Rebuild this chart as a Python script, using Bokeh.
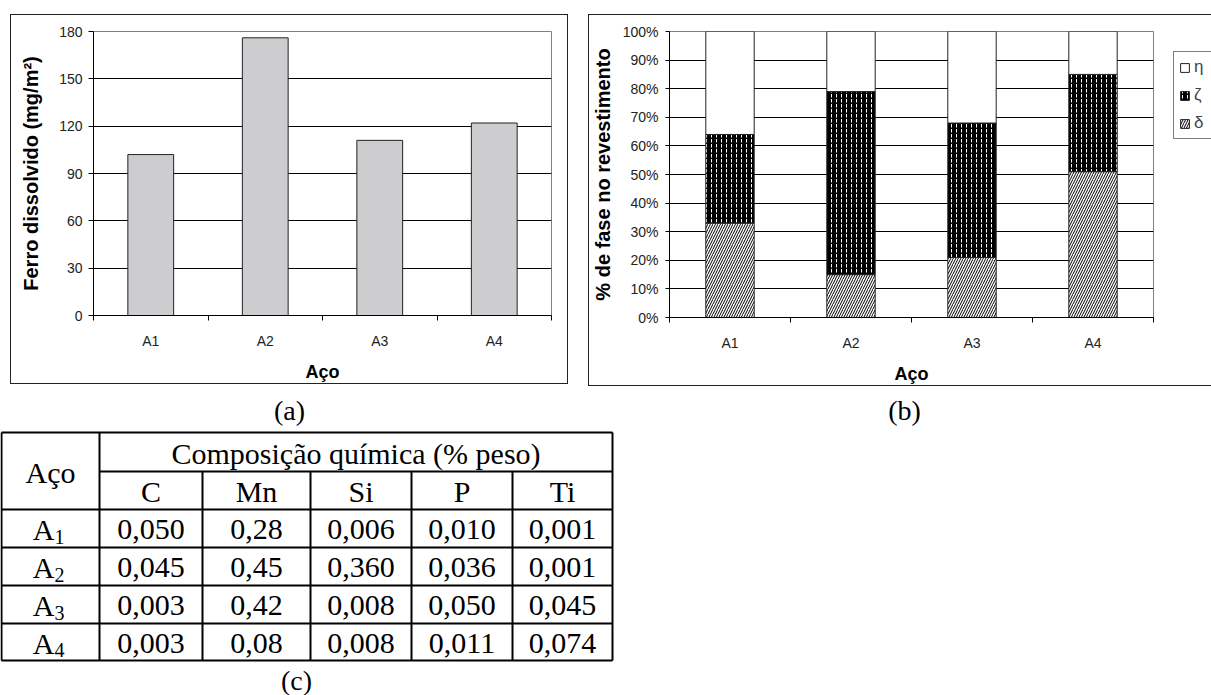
from bokeh.plotting import figure
from bokeh.models import (Range1d, FixedTicker, ColumnDataSource, Legend, LegendItem,
                          Spacer, PrintfTickFormatter)
from bokeh.layouts import row, column
from bokeh.embed import file_html
from bokeh.resources import INLINE
from bokeh.core.properties import value

# ---------------- data ----------------
steels = ["A1", "A2", "A3", "A4"]
ferro = [102, 176, 111, 122]                 # Ferro dissolvido (mg/m2)
ferro_ticks = [0, 30, 60, 90, 120, 150, 180]

phase_delta = [33, 15, 21, 51]               # % delta
phase_zeta = [31, 64, 47, 34]                # % zeta
phase_eta = [36, 21, 32, 15]                 # % eta
pct_ticks = [0, 10, 20, 30, 40, 50, 60, 70, 80, 90, 100]
phase_names = ["δ", "ζ", "η"]

table_steel = ["A", "A", "A", "A"]
table_sub = ["1", "2", "3", "4"]
elements = ["C", "Mn", "Si", "P", "Ti"]
comp_C = ["0,050", "0,045", "0,003", "0,003"]
comp_Mn = ["0,28", "0,45", "0,42", "0,08"]
comp_Si = ["0,006", "0,360", "0,008", "0,008"]
comp_P = ["0,010", "0,036", "0,050", "0,011"]
comp_Ti = ["0,001", "0,001", "0,045", "0,074"]
table_header = "Composição química (% peso)"
table_corner = "Aço"
captions = ["(a)", "(b)", "(c)"]

# ---------------- style ----------------
SANS = "Liberation Sans"
SERIF = "Liberation Serif"
n = len(steels)
xs = [i + 0.5 for i in range(n)]
STACK_STYLE = dict(fill_color=["white", "black", "white"],
                   line_color=["#222222", "#222222", "#222222"],
                   hatch_pattern=["right_diagonal_line", "vertical_dash", " "],
                   hatch_color=["black", "white", "black"],
                   hatch_scale=[5, 5, 4], hatch_weight=[1, 1, 1])


def style_chart(p, yticks, ylabel, ylabel_standoff):
    p.xgrid.visible = False
    p.ygrid.ticker = FixedTicker(ticks=yticks)
    p.ygrid.grid_line_color = "black"
    p.ygrid.grid_line_width = 1
    p.outline_line_color = "#808080"
    p.yaxis.ticker = FixedTicker(ticks=yticks)
    p.xaxis.ticker = FixedTicker(ticks=xs, minor_ticks=list(range(n + 1)))
    p.xaxis.major_label_overrides = {x: s for x, s in zip(xs, steels)}
    for ax in (p.xaxis[0], p.yaxis[0]):
        ax.axis_line_color = "black"
        ax.major_tick_line_color = "black"
        ax.minor_tick_line_color = "black"
        ax.major_label_text_font = SANS
        ax.major_label_text_font_size = "14px"
        ax.major_label_text_color = "#222222"
        ax.axis_label_text_font = SANS
        ax.axis_label_text_font_style = "bold"
        ax.axis_label_text_color = "black"
    p.xaxis.axis_label_text_font_size = "18px"
    p.yaxis.axis_label_text_font_size = "20px"
    p.xaxis.major_tick_out = 0
    p.xaxis.major_tick_in = 0
    p.xaxis.minor_tick_out = 5
    p.xaxis.minor_tick_in = 0
    p.xaxis.major_label_standoff = 12
    p.xaxis.axis_label = "Aço"
    p.xaxis.axis_label_standoff = 10
    p.yaxis.major_tick_out = 5
    p.yaxis.major_tick_in = 0
    p.yaxis.minor_tick_out = 0
    p.yaxis.major_label_standoff = 6
    p.yaxis.axis_label = ylabel
    p.yaxis.axis_label_standoff = ylabel_standoff


# ---------------- chart (a) ----------------
pa = figure(width=558, height=370, x_range=Range1d(0, n), y_range=Range1d(0, ferro_ticks[-1]),
            output_backend="svg", toolbar_location=None,
            min_border_left=83, min_border_right=17, min_border_top=14, min_border_bottom=62,
            border_fill_color=None, background_fill_color="white",
            styles={"box-shadow": "inset 0 0 0 1px #222"})
pa.vbar(x=xs, top=ferro, width=0.4, fill_color="#cdcccf", line_color="#222222", line_width=1)
style_chart(pa, ferro_ticks, "Ferro dissolvido (mg/m²)", 14)

# ---------------- chart (b) ----------------
pb = figure(width=568, height=372, x_range=Range1d(0, n), y_range=Range1d(0, pct_ticks[-1]),
            output_backend="svg", toolbar_location=None,
            min_border_left=81, min_border_right=3, min_border_top=17, min_border_bottom=68,
            border_fill_color=None, background_fill_color="white",
            styles={"box-shadow": "inset 1px 1px 0 0 #222, inset 0 -1px 0 0 #222"})
src = ColumnDataSource(dict(x=xs, delta=phase_delta, zeta=phase_zeta, eta=phase_eta))
pb.vbar_stack(["delta", "zeta", "eta"], x="x", width=0.4, source=src, **STACK_STYLE)
style_chart(pb, pct_ticks, "% de fase no revestimento", 6)
pb.yaxis.formatter = PrintfTickFormatter(format="%d%%")
pb.yaxis.major_tick_out = 4
pb.yaxis.major_label_standoff = 7

# legend strip (continuation of chart (b) area, right of the plot)
lf = figure(width=55, height=372, x_range=Range1d(0, n), y_range=Range1d(0, pct_ticks[-1]),
            output_backend="svg", toolbar_location=None, x_axis_type=None, y_axis_type=None,
            min_border=0, outline_line_color=None, background_fill_color=None,
            border_fill_color=None,
            styles={"box-shadow": "inset 0 1px 0 0 #222, inset 0 -1px 0 0 #222"})
lf.xgrid.visible = False
lf.ygrid.visible = False
lrs = lf.vbar_stack(["delta", "zeta", "eta"], x="x", width=0.4, source=src, **STACK_STYLE)
for r in lrs:
    r.visible = False
leg = Legend(items=[LegendItem(label=phase_names[i], renderers=[lrs[i]]) for i in (2, 1, 0)],
             location=(17, 178), margin=0, padding=5, spacing=8,
             glyph_width=11, glyph_height=11, label_height=18, label_standoff=4,
             label_text_font=SANS, label_text_font_size="17px",
             border_line_color="black", border_line_width=1, background_fill_color="white")
lf.add_layout(leg)

# ---------------- captions + table ----------------
pt = figure(width=1211, height=309, x_range=Range1d(0, 1211), y_range=Range1d(695, 386),
            output_backend="svg", toolbar_location=None, x_axis_type=None, y_axis_type=None,
            min_border=0, outline_line_color=None, background_fill_color=None,
            border_fill_color=None)
pt.xgrid.visible = False
pt.ygrid.visible = False

col_edges = [1, 99, 202, 310, 411, 512, 612]
row_edges = [432, 471, 509, 547, 585, 623, 660]

hx0, hx1, hy = [], [], []
for i, y in enumerate(row_edges):
    hx0.append(col_edges[1] if i == 1 else col_edges[0])
    hx1.append(col_edges[-1])
    hy.append(y)
pt.segment(x0=hx0, y0=hy, x1=hx1, y1=hy, line_color="black", line_width=2)
vx, vy0 = [], []
for j, x in enumerate(col_edges):
    vx.append(x)
    vy0.append(row_edges[1] if 1 < j < len(col_edges) - 1 else row_edges[0])
pt.segment(x0=vx, y0=vy0, x1=vx, y1=[row_edges[-1]] * len(vx), line_color="black", line_width=2)

serif = dict(text_font=value(SERIF), text_color="black", text_baseline="middle")
pt.text(x=[(col_edges[1] + col_edges[-1]) / 2], y=[(row_edges[0] + row_edges[1]) / 2 + 1],
        text=[table_header], text_align="center", text_font_size=value("30px"), **serif)
pt.text(x=[(col_edges[0] + col_edges[1]) / 2], y=[(row_edges[0] + row_edges[2]) / 2 + 1],
        text=[table_corner], text_align="center", text_font_size=value("30px"), **serif)
ccx = [(col_edges[j + 1] + col_edges[j + 2]) / 2 for j in range(len(elements))]
pt.text(x=ccx, y=[(row_edges[1] + row_edges[2]) / 2 + 1] * len(elements), text=elements,
        text_align="center", text_font_size=value("30px"), **serif)
columns = [comp_C, comp_Mn, comp_Si, comp_P, comp_Ti]
tx, ty, tt = [], [], []
for r in range(len(table_steel)):
    yc = (row_edges[r + 2] + row_edges[r + 3]) / 2 + 1
    for j, col in enumerate(columns):
        tx.append(ccx[j]); ty.append(yc); tt.append(col[r])
pt.text(x=tx, y=ty, text=tt, text_align="center", text_font_size=value("30px"), **serif)
rcy = [(row_edges[r + 2] + row_edges[r + 3]) / 2 + 1 for r in range(len(table_steel))]
pt.text(x=[54] * len(table_steel), y=rcy, text=table_steel, text_align="right",
        text_font_size=value("30px"), **serif)
pt.text(x=[54] * len(table_sub), y=[y + 7 for y in rcy], text=table_sub, text_align="left",
        text_font_size=value("20px"), **serif)

pt.text(x=[289, 904, 296], y=[410, 410, 680], text=captions, text_align="center",
        text_font_size=value("28px"), **serif)

layout = column(Spacer(width=10, height=14),
                row(Spacer(width=10, height=370), pa, Spacer(width=20, height=10), pb, lf),
                pt)

open("out.html", "w").write(file_html(layout, INLINE))
